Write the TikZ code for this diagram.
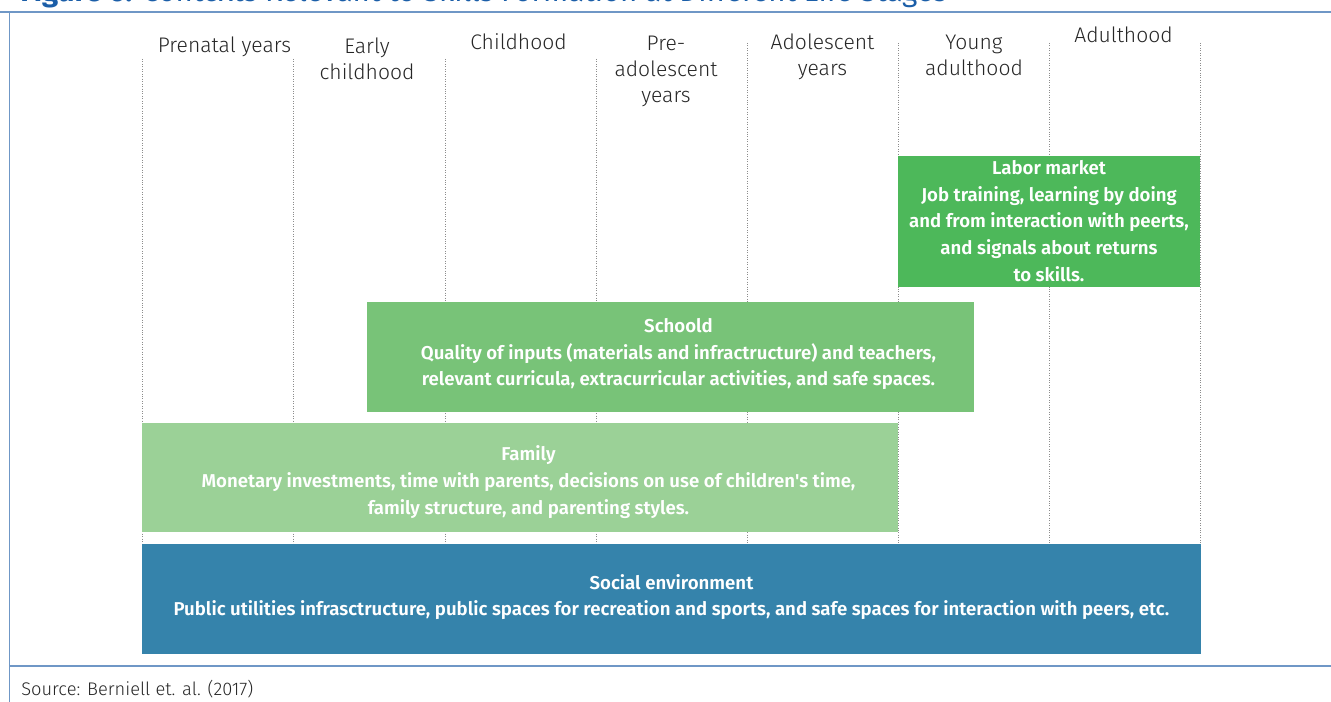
\documentclass[tikz,border=0pt]{standalone}
\usepackage{fontspec}
\setmainfont{Fira Sans}
\newfontfamily\lightfont{Fira Sans Light}
\newfontfamily\semifont{Fira Sans SemiBold}
\usepackage{tikz}
\usetikzlibrary{positioning, fit}

\definecolor{framecol}{HTML}{6F97C6}
\definecolor{titlecol}{HTML}{1B5EA8}
\definecolor{laborcol}{HTML}{4DB85A}
\definecolor{schoolcol}{HTML}{78C378}
\definecolor{familycol}{HTML}{9BD197}
\definecolor{socialcol}{HTML}{3583AB}

\tikzset{
  stage/.style={font=\lightfont\fontsize{12}{14.8}\selectfont, text=black!85, align=center, inner sep=0pt, anchor=base},
  ctxbox/.style={inner sep=0pt, draw=none},
  ctxtext/.style={font=\semifont\fontsize{10.6}{15.2}\selectfont, text=white, align=center, inner sep=0pt},
  divider/.style={black!45, densely dotted, line width=0.4pt},
  framerule/.style={framecol, line width=0.9pt}
}

\begin{document}
\begin{tikzpicture}[x=0.02cm, y=-0.02cm]
            \useasboundingbox (0,0) rectangle (1331,702);

            % Frame and title
            \node[anchor=base west, inner sep=0pt, text=titlecol, font=\fontsize{16.7}{20}\selectfont] (title) at (20,2)
                {\textbf{Figure 6:} Contexts Relevant to Skills Formation at Different Life Stages};
            \draw[framerule] (0,12) -- (1331,12);
            \draw[framerule] (9.5,12) -- (9.5,702);
            \draw[framerule] (9.5,666) -- (1331,666);

            % Column dividers
            \foreach \x in {142,293,445,596} \draw[divider] (\x,59) -- (\x,560);
            \foreach \x in {747,898,1049,1200} \draw[divider] (\x,43) -- (\x,560);

            % Life stages (base = last line)
            \node[stage] (prenatal) at (224.5,53) {Prenatal years};
            \node[stage] (early) at (367,80) {Early\\childhood};
            \node[stage] (child) at (518.5,50) {Childhood};
            \node[stage] (preado) at (666,102.5) {Pre-\\adolescent\\years};
            \node[stage] (ado) at (822.5,76) {Adolescent\\years};
            \node[stage] (young) at (974,76) {Young\\adulthood};
            \node[stage] (adult) at (1123.5,43) {Adulthood};

            % Contexts
            \node[ctxbox, fill=laborcol, fit={(898,156) (1200,287)}] (labor) {};
            \node[ctxtext] (labor-text) at (1049,221)
                {Labor market\\Job training, learning by doing\\and from interaction with peerts,\\and signals about returns\\to skills.};

            \node[ctxbox, fill=schoolcol, fit={(367,302) (974,412)}] (school) {};
            \node[ctxtext] (school-text) at (678.5,354)
                {Schoold\\Quality of inputs (materials and infractructure) and teachers,\\relevant curricula, extracurricular activities, and safe spaces.};

            \node[ctxbox, fill=familycol, fit={(142,423) (898,532)}] (family) {};
            \node[ctxtext] (family-text) at (528.5,482)
                {Family\\Monetary investments, time with parents, decisions on use of children's time,\\family structure, and parenting styles.};

            \node[ctxbox, fill=socialcol, fit={(142,544) (1201,654)}] (social) {};
            \node[ctxtext] (social-text) at (671.5,597)
                {Social environment\\Public utilities infrasctructure, public spaces for recreation and sports, and safe spaces for interaction with peers, etc.};

            % Source
            \node[anchor=base west, inner sep=0pt, text=black!85, font=\lightfont\fontsize{10.4}{13}\selectfont] (source) at (21,695)
                {Source: Berniell et. al. (2017)};
        \end{tikzpicture}
\end{document}
